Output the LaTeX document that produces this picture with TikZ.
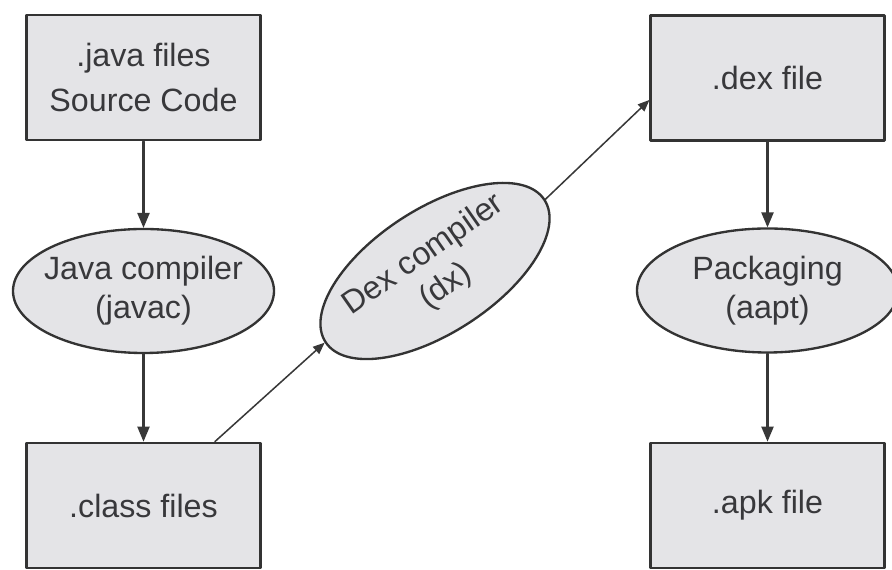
\documentclass[tikz,border=0pt]{standalone}
\usepackage{fontspec}
\setmainfont{Liberation Sans}
\usepackage{tikz}
\usetikzlibrary{calc}
\usetikzlibrary{arrows}
\usetikzlibrary{shapes.geometric}
\definecolor{boxfill}{rgb}{0.894,0.894,0.906}
\definecolor{edgegray}{rgb}{0.2,0.2,0.2}
\definecolor{txtgray}{rgb}{0.22,0.22,0.23}
\definecolor{arrgray}{rgb}{0.22,0.22,0.22}
\tikzstyle{filebox}=[draw=edgegray,fill=boxfill,line width=2.5pt,minimum width=7.0cm,minimum height=3.75cm,inner sep=0pt,align=center,text=txtgray,font=\fontsize{27.5}{39}\selectfont]
\tikzstyle{tool}=[ellipse,draw=edgegray,fill=boxfill,line width=2pt,minimum width=7.83cm,minimum height=3.72cm,inner sep=0pt]
\tikzstyle{tooltext}=[align=center,text=txtgray,font=\fontsize{27.5}{33}\selectfont]
\tikzstyle{flow}=[->,line width=2pt,color=arrgray]
\tikzstyle{slant}=[->,line width=1.3pt,color=arrgray]

\begin{document}
\begin{tikzpicture}[line cap=round,line join=round,>=triangle 45,x=0.03cm,y=0.03cm]
  \useasboundingbox (0,0) rectangle (892,570);
  % left column: javac
  \node[filebox] (src) at (143.5,492.5) {.java files\\Source Code};
  \node[tool,label={[tooltext]center:Java compiler\\(javac)}] (javac) at (143.5,279) {};
  \node[filebox] (class) at (143.5,64.5) {.class files};
  % dx in between, tilted
  \node[tool,rotate=33,label={[tooltext,rotate=35]center:Dex compiler\\(dx)}] (dx) at (435,299) {};
  % right column: aapt
  \node[filebox] (dex) at (767.5,492) {.dex file};
  \node[tool,label={[tooltext]center:Packaging\\(aapt)}] (aapt) at (767.5,279.5) {};
  \node[filebox] (apk) at (767.5,64.5) {.apk file};

  \draw[flow] (src) -- (javac);
  \draw[flow] (javac) -- (class);
  \draw[slant] ($(class.north)+(71.5,0)$) -- (dx.west);
  \draw[slant] (dx.east) -- ($(dex.west)+(0,-22)$);
  \draw[flow] (dex) -- (aapt);
  \draw[flow] (aapt) -- (apk);
\end{tikzpicture}
\end{document}
